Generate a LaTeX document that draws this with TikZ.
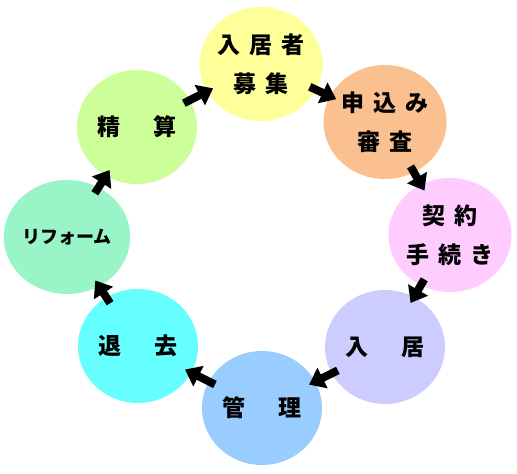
\documentclass[tikz,border=0pt]{standalone}
\usepackage{fontspec}
\newfontfamily\jpfont{Noto Sans CJK JP}
\usetikzlibrary{arrows.meta, shapes.geometric}
\definecolor{cyellow}{HTML}{FFFF99}
\definecolor{corange}{HTML}{FAC090}
\definecolor{cpink}{HTML}{FFCCFF}
\definecolor{clavender}{HTML}{CCCCFF}
\definecolor{cblue}{HTML}{99CCFF}
\definecolor{ccyan}{HTML}{66FFFF}
\definecolor{cmint}{HTML}{99F5C8}
\definecolor{cgreen}{HTML}{CCFF99}
\newcommand\ls{\hspace{9pt}}
\newcommand\wls{\hspace{33pt}}

\begin{document}
\begin{tikzpicture}[
      x=1pt, y=-1pt,
      >={Triangle[width=22pt,length=15pt]},
      every node/.append style={font=\jpfont\bfseries\fontsize{23}{39}\selectfont},
      stage/.style={ellipse, minimum width=120pt, minimum height=114pt,
                    inner sep=0pt, align=center},
      flow/.style={->, line width=8pt, shorten <=-7pt, shorten >=-7pt},
    ]
      \useasboundingbox (0,0) rectangle (517,474);
      \node[stage, fill=cyellow]   (boshu)   at (261,64)  {入\ls 居\ls 者\\募\ls 集};
      \node[stage, fill=corange]   (shinsa)  at (385,122) {申\ls 込\ls み\\審\ls 査};
      \node[stage, fill=cpink]     (keiyaku) at (450,235) {契\ls 約\\手\ls 続\ls き};
      \node[stage, fill=clavender] (nyukyo)  at (385,347) {入\wls 居};
      \node[stage, fill=cblue]     (kanri)   at (262,408) {管\wls 理};
      \node[stage, fill=ccyan]     (taikyo)  at (138,346) {退\wls 去};
      \node[stage, fill=cmint, font=\jpfont\bfseries\fontsize{18}{20}\selectfont]
                                   (reform)  at (67,237)  {リフォーム};
      \node[stage, fill=cgreen]    (seisan)  at (137,127) {精\wls 算};
      \draw[flow] (seisan) -- (boshu);
      \draw[flow] (boshu) -- (shinsa);
      \draw[flow] (shinsa) -- (keiyaku);
      \draw[flow] (keiyaku) -- (nyukyo);
      \draw[flow] (nyukyo) -- (kanri);
      \draw[flow] (kanri) -- (taikyo);
      \draw[flow] (taikyo) -- (reform);
      \draw[flow] (reform) -- (seisan);
    \end{tikzpicture}
\end{document}
